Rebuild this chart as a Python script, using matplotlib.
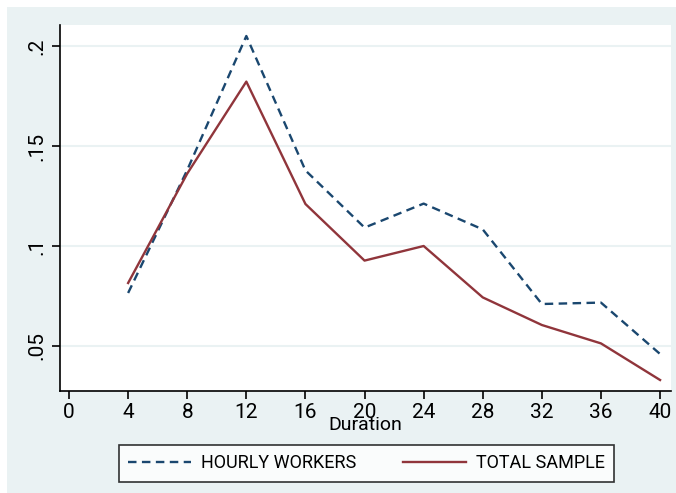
import matplotlib
matplotlib.use("Agg")
import matplotlib.pyplot as plt
from matplotlib.patches import Rectangle

# hazard by duration
duration = [4, 8, 12, 16, 20, 24, 28, 32, 36, 40]
hourly_workers = [0.0765, 0.138, 0.205, 0.1378, 0.1092, 0.1212, 0.1083, 0.0710, 0.0717, 0.0460]
total_sample = [0.0815, 0.1362, 0.1822, 0.1210, 0.0927, 0.1000, 0.0743, 0.0605, 0.0513, 0.0330]

x_ticks = [0, 4, 8, 12, 16, 20, 24, 28, 32, 36, 40]
y_ticks = [0.05, 0.1, 0.15, 0.2]
y_labels = [".05", ".1", ".15", ".2"]

navy = "#1a476f"
maroon = "#90353b"
bg = "#eaf2f3"

plt.rcParams['font.family'] = ['Roboto', 'DejaVu Sans']

fig = plt.figure(figsize=(6.76, 4.93), dpi=100, facecolor="white")
# shaded graph region
fig.patches.append(Rectangle((7 / 676, 0), 1, 1 - 7 / 493, transform=fig.transFigure,
                             facecolor=bg, edgecolor="none", zorder=-10))

ax = fig.add_axes([60 / 676, 1 - 391 / 493, 611 / 676, 366 / 493])
ax.set_facecolor("white")

ax.plot(duration, hourly_workers, color=navy, lw=1.7, dashes=(3.6, 2.3), label="HOURLY WORKERS")
ax.plot(duration, total_sample, color=maroon, lw=1.7, label="TOTAL SAMPLE")

ax.set_xlim(-0.61, 40.74)
ax.set_ylim(0.0275, 0.2105)
ax.set_xticks(x_ticks)
ax.set_xticklabels([str(t) for t in x_ticks], fontsize=15)
ax.set_yticks(y_ticks)
ax.set_yticklabels(y_labels, fontsize=15, rotation=90, va="center")
ax.tick_params(axis="both", direction="out", length=6, width=1.2, color="black")
ax.tick_params(axis="x", pad=3)
ax.tick_params(axis="y", pad=4)

ax.grid(axis="y", color=bg, lw=1.5)
ax.set_axisbelow(True)
for side in ["top", "right"]:
    ax.spines[side].set_visible(False)
for side in ["left", "bottom"]:
    ax.spines[side].set_linewidth(1.2)

ax.set_xlabel("Duration", fontsize=14, labelpad=-5)

leg = ax.legend(loc="center", bbox_to_anchor=(366.5 / 676, 1 - 463.5 / 493),
                bbox_transform=fig.transFigure, ncol=2, fontsize=13, frameon=True,
                fancybox=False, edgecolor="black", handlelength=3.5, handletextpad=0.55,
                columnspacing=2.6, borderpad=0.5)
leg.get_frame().set_linewidth(1.2)

fig.savefig("out.png", dpi=100, facecolor=fig.get_facecolor())
